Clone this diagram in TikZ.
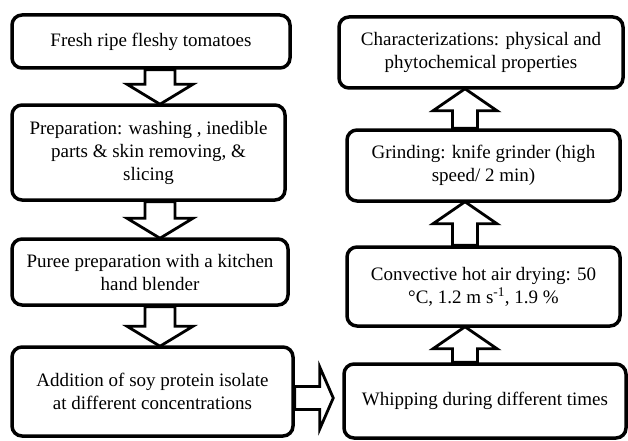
\documentclass[tikz,border=0pt]{standalone}
\usepackage{fontspec}
\setmainfont{Liberation Serif}
\usetikzlibrary{calc}
\tikzset{
  box/.style={draw=black, line width=3.5pt, rounded corners=10pt, fill=white,
    align=center, inner sep=2pt, font=\fontsize{19}{23}\selectfont},
  blk/.style={draw=black, line width=2.8pt, fill=white, miter limit=10}
}
\newcommand\blkdown[3]{%
  \draw[blk] let \p1=(#1.south), \p2=(#2.north) in
   (#3pt-15pt,\y1) -- (#3pt-15pt,\y2+19pt) -- (#3pt-33pt,\y2+19pt) -- (#3pt,\y2-1pt)
   -- (#3pt+33pt,\y2+19pt) -- (#3pt+15pt,\y2+19pt) -- (#3pt+15pt,\y1) -- cycle;}
\newcommand\blkup[3]{%
  \draw[blk] let \p1=(#1.north), \p2=(#2.south) in
   (#3pt-12.5pt,\y1) -- (#3pt-12.5pt,\y2-21pt) -- (#3pt-32pt,\y2-21pt) -- (#3pt,\y2+1pt)
   -- (#3pt+32pt,\y2-21pt) -- (#3pt+12.5pt,\y2-21pt) -- (#3pt+12.5pt,\y1) -- cycle;}
\begin{document}
\begin{tikzpicture}[x=1pt,y=1pt]
\useasboundingbox (0,0) rectangle (628,440);
% left column
\node[box, minimum width=278pt, minimum height=53pt] (b1) at (151,398.5) {Fresh ripe fleshy tomatoes};
\node[box, minimum width=273pt, minimum height=95pt] (b2) at (148.5,287.5) {Preparation: washing , inedible\\parts \& skin removing, \&\\slicing};
\node[box, minimum width=276pt, minimum height=66pt] (b3) at (150,168) {Puree preparation with a kitchen\\hand blender};
\node[box, minimum width=281pt, minimum height=89pt] (b4) at (152.5,48.5) {Addition of soy protein isolate\\at different concentrations};
% right column
\node[box, minimum width=284pt, minimum height=71pt] (r1) at (481,387.5) {Characterizations: physical and\\phytochemical properties};
\node[box, minimum width=273pt, minimum height=71pt] (r2) at (483.5,274.5) {Grinding: knife grinder (high\\speed/ 2 min)};
\node[box, minimum width=273pt, minimum height=79pt] (r3) at (483.5,153.5) {Convective hot air drying: 50\\°C, 1.2 m s\textsuperscript{-1}, 1.9 \%};
\node[box, minimum width=282pt, minimum height=74pt] (r4) at (485,39) {Whipping during different times};
% arrows
\blkdown{b1}{b2}{160}
\blkdown{b2}{b3}{160}
\blkdown{b3}{b4}{160}
\blkup{r4}{r3}{465}
\blkup{r3}{r2}{465}
\blkup{r2}{r1}{465}
\draw[blk] let \p1=(b4.east), \p2=(r4.west) in
  (\x1,53.5) -- (\x1+25pt,53.5) -- (\x1+25pt,73) -- (\x2-9pt,42) -- (\x1+25pt,11)
  -- (\x1+25pt,30.5) -- (\x1,30.5) -- cycle;
\end{tikzpicture}
\end{document}
